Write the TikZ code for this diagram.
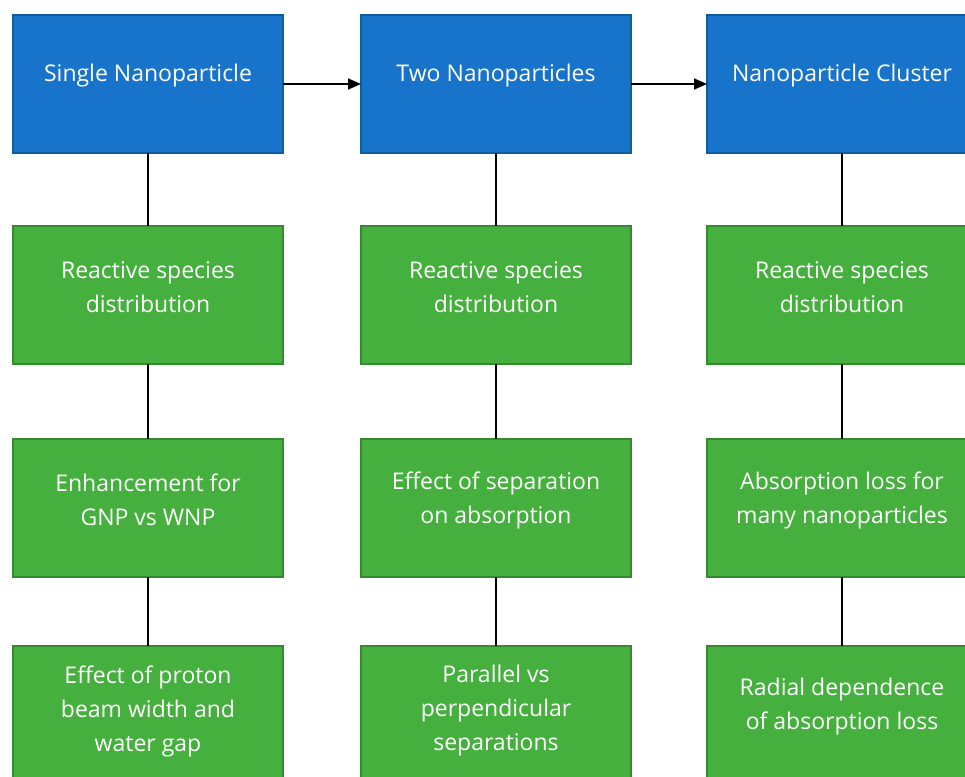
\documentclass[tikz,border=0pt]{standalone}
\usepackage{fontspec}
\setmainfont{Open Sans}
\usetikzlibrary{arrows.meta}
\definecolor{bluefill}{HTML}{1874CA}
\definecolor{blueedge}{HTML}{0F5C9E}
\definecolor{greenfill}{HTML}{46B03F}
\definecolor{greenedge}{HTML}{358A2F}
\begin{document}
\begin{tikzpicture}[x=1pt,y=-1pt,
  box/.style={draw, line width=1.3pt, minimum width=270pt, minimum height=138pt, inner sep=0pt, outer sep=0pt, anchor=north west},
  topbox/.style={box, fill=bluefill, draw=blueedge},
  subbox/.style={box, fill=greenfill, draw=greenedge},
  lbl/.style={text=white, font=\fontsize{23}{34}\selectfont, align=center, inner sep=0pt, yshift=8pt},
  link/.style={line width=1.5pt, draw=black},
  flow/.style={link, -{Triangle[length=13pt,width=11pt]}}]
\useasboundingbox (0,0) rectangle (965,776);
\clip (0,0) rectangle (965,776);
% boxes
\node[topbox] (a1) at (13,15) {};
\node[topbox] (a2) at (361,15) {};
\node[topbox] (a3) at (707,15) {};
\node[subbox] (b1) at (13,226) {};
\node[subbox] (b2) at (361,226) {};
\node[subbox] (b3) at (707,226) {};
\node[subbox] (c1) at (13,439) {};
\node[subbox] (c2) at (361,439) {};
\node[subbox] (c3) at (707,439) {};
\node[subbox] (d1) at (13,646) {};
\node[subbox] (d2) at (361,646) {};
\node[subbox] (d3) at (707,646) {};
% labels
\node[lbl] (ta1) at (a1.center) {Single Nanoparticle};
\node[lbl] (ta2) at (a2.center) {Two Nanoparticles};
\node[lbl] (ta3) at (a3.center) {Nanoparticle Cluster};
\node[lbl] (tb1) at (b1.center) {Reactive species\\distribution};
\node[lbl] (tb2) at (b2.center) {Reactive species\\distribution};
\node[lbl] (tb3) at (b3.center) {Reactive species\\distribution};
\node[lbl] (tc1) at (c1.center) {Enhancement for\\GNP vs WNP};
\node[lbl] (tc2) at (c2.center) {Effect of separation\\on absorption};
\node[lbl] (tc3) at (c3.center) {Absorption loss for\\many nanoparticles};
\node[lbl,yshift=-4pt] (td1) at (d1.center) {Effect of proton\\beam width and\\water gap};
\node[lbl,yshift=-4pt] (td2) at (d2.center) {Parallel vs\\perpendicular\\separations};
\node[lbl] (td3) at (d3.center) {Radial dependence\\of absorption loss};
% connectors
\draw[flow] (a1.east) -- (a2.west);
\draw[flow] (a2.east) -- (a3.west);
\foreach \c in {1,2,3}{
  \draw[link] (a\c.south) -- (b\c.north);
  \draw[link] (b\c.south) -- (c\c.north);
  \draw[link] (c\c.south) -- (d\c.north);
}
\end{tikzpicture}
\end{document}
